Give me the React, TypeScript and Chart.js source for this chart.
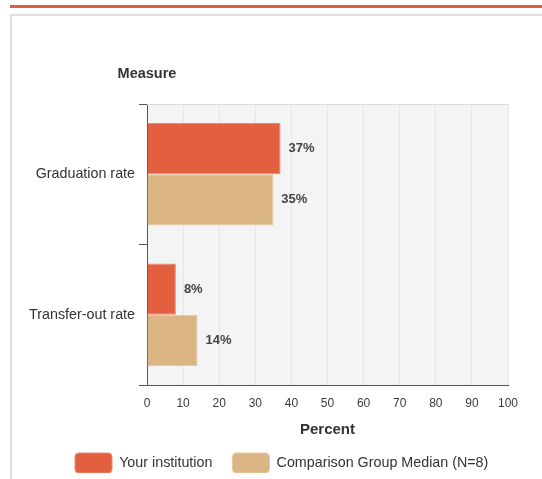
import React, { useEffect, useRef } from "react";
import { Chart, registerables } from "chart.js";

Chart.register(...registerables);

const categories = ["Graduation rate", "Transfer-out rate"];
const seriesNames = ["Your institution", "Comparison Group Median (N=8)"];
const yourInstitution = [37, 8];
const comparisonMedian = [35, 14];
const xTicks = [0, 10, 20, 30, 40, 50, 60, 70, 80, 90, 100];

const FONT = "'Liberation Sans', Arial, sans-serif";

const bgPlugin = {
  id: "plotBg",
  beforeDraw(chart: any) {
    const { ctx, chartArea } = chart;
    ctx.save();
    ctx.fillStyle = "#f4f4f4";
    ctx.fillRect(chartArea.left, chartArea.top, chartArea.right - chartArea.left, chartArea.bottom - chartArea.top);
    ctx.restore();
  },
  afterDraw(chart: any) {
    const { ctx, chartArea } = chart;
    ctx.save();
    ctx.strokeStyle = "#dcdcdc";
    ctx.lineWidth = 1;
    ctx.beginPath();
    ctx.moveTo(chartArea.left, chartArea.top + 0.5);
    ctx.lineTo(chartArea.right, chartArea.top + 0.5);
    ctx.stroke();
    ctx.fillStyle = "#333";
    ctx.font = `bold 14.5px ${FONT}`;
    ctx.textAlign = "center";
    ctx.textBaseline = "middle";
    ctx.fillText("Measure", chartArea.left, chartArea.top - 30);
    ctx.restore();
  },
};

const labelPlugin = {
  id: "barLabels",
  afterDatasetsDraw(chart: any) {
    const { ctx } = chart;
    ctx.save();
    ctx.fillStyle = "#444";
    ctx.font = `bold 13px ${FONT}`;
    ctx.textAlign = "left";
    ctx.textBaseline = "middle";
    chart.data.datasets.forEach((ds: any, di: number) => {
      const meta = chart.getDatasetMeta(di);
      meta.data.forEach((bar: any, i: number) => {
        ctx.fillText(`${ds.data[i]}%`, bar.x + 8, bar.y);
      });
    });
    ctx.restore();
  },
};

const legendShift = {
  id: "legendShift",
  afterLayout(chart: any) {
    const lg = chart.legend;
    if (!lg || !lg.lineWidths) return;
    const pad = lg.options.labels.padding;
    const natural = (lg.left + pad + lg.right - lg.lineWidths[0]) / 2;
    const dx = 75 - natural;
    lg.left += dx;
    lg.right += dx;
    lg.top -= 6;
    lg.bottom -= 6;
  },
};

export default function App() {
  const ref = useRef<HTMLCanvasElement | null>(null);

  useEffect(() => {
    if (!ref.current) return;
    const chart = new Chart(ref.current, {
      type: "bar",
      data: {
        labels: categories,
        datasets: [
          {
            label: seriesNames[0],
            data: yourInstitution,
            backgroundColor: "#e2603f",
            borderColor: "#ee8669",
            borderWidth: 1,
            categoryPercentage: 0.73,
            barPercentage: 1.0,
          },
          {
            label: seriesNames[1],
            data: comparisonMedian,
            backgroundColor: "#dcb585",
            borderColor: "#e8c9a2",
            borderWidth: 1,
            categoryPercentage: 0.73,
            barPercentage: 1.0,
          },
        ],
      },
      options: {
        indexAxis: "y",
        responsive: false,
        animation: false,
        layout: { padding: { top: 104, right: 34, left: 0, bottom: 0 } },
        scales: {
          y: {
            afterFit: (s: any) => {
              s.width = 147;
            },
            grid: {
              drawOnChartArea: false,
              drawTicks: true,
              tickLength: 8,
              color: "#555",
            },
            border: { display: true, color: "#555" },
            ticks: {
              padding: 4,
              color: "#333",
              font: { family: FONT, size: 14.3 },
            },
          },
          x: {
            min: 0,
            max: 100,
            afterFit: (s: any) => {
              s.height = 54;
            },
            afterBuildTicks: (s: any) => {
              s.ticks = xTicks.map((v) => ({ value: v }));
            },
            grid: {
              color: "#e1e6ef",
              drawTicks: false,
            },
            border: { display: true, color: "#555" },
            ticks: {
              padding: 11,
              color: "#3a3a3a",
              font: { family: FONT, size: 12 },
            },
            title: {
              display: true,
              text: "Percent",
              color: "#333",
              font: { family: FONT, size: 15, weight: "bold" },
              padding: { top: 0, bottom: 0 },
            },
          },
        },
        plugins: {
          legend: {
            position: "bottom",
            maxHeight: 40,
            labels: {
              boxWidth: 37,
              boxHeight: 20,
              padding: 20,
              useBorderRadius: true,
              borderRadius: 4,
              color: "#333",
              font: { family: FONT, size: 14.3 },
            },
          },
          tooltip: { enabled: false },
        },
      } as any,
      plugins: [bgPlugin, labelPlugin, legendShift],
    });
    return () => chart.destroy();
  }, []);

  return (
    <div style={{ position: "absolute", left: 0, top: 0, width: 542, height: 479, overflow: "hidden", background: "#fff" }}>
      <div style={{ position: "absolute", left: 10, top: 5, width: 532, height: 3, background: "#d8643f" }} />
      <div
        style={{
          position: "absolute",
          left: 10,
          top: 14,
          width: 600,
          height: 500,
          borderLeft: "2px solid #dedede",
          borderTop: "2px solid #dedede",
          boxSizing: "border-box",
        }}
      />
      <canvas ref={ref} width={542} height={479} style={{ position: "absolute", left: 0, top: 0, display: "block" }} />
    </div>
  );
}
